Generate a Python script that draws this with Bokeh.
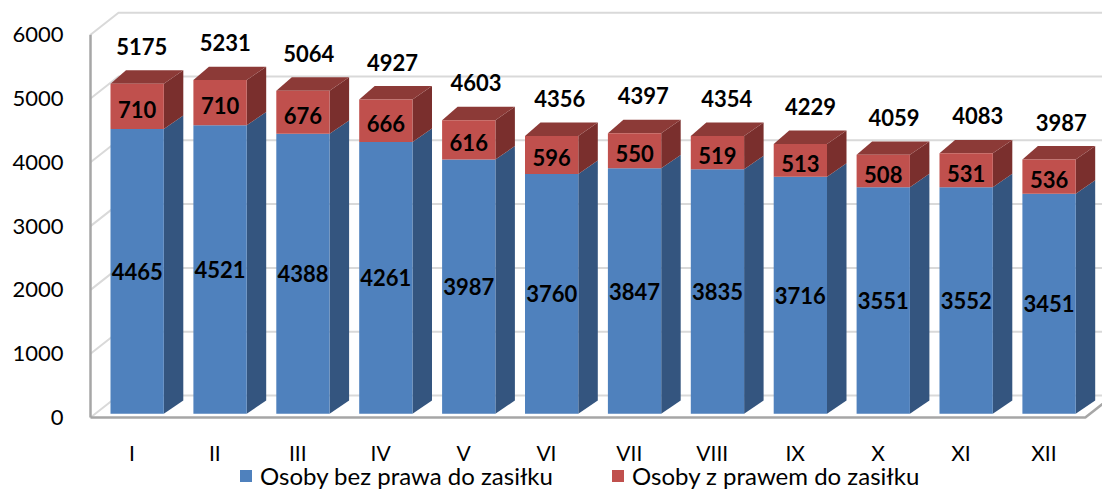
import numpy as np
from bokeh.plotting import figure
from bokeh.models import FixedTicker, Legend, LegendItem
from bokeh.embed import file_html
from bokeh.resources import INLINE
from bokeh.core.properties import value

# ---------------- data ----------------
months = ["I", "II", "III", "IV", "V", "VI", "VII", "VIII", "IX", "X", "XI", "XII"]
bez_prawa = [4465, 4521, 4388, 4261, 3987, 3760, 3847, 3835, 3716, 3551, 3552, 3451]
z_prawem = [710, 710, 676, 666, 616, 596, 550, 519, 513, 508, 531, 536]
totals = [5175, 5231, 5064, 4927, 4603, 4356, 4397, 4354, 4229, 4059, 4083, 3987]
y_ticks = [0, 1000, 2000, 3000, 4000, 5000, 6000]
series_names = ["Osoby bez prawa do zasiłku", "Osoby z prawem do zasiłku"]

# ---------------- geometry helpers (pixel -> data) ----------------
PX_X = 82.9      # pixels per category
PX_Y = 0.0638    # pixels per unit of value
def dxu(px):
    return px / PX_X
def dyu(px):
    return px / PX_Y

FONT = "Lato"
BLUE, BLUE_SIDE = "#4F81BD", "#34557F"
RED, RED_TOP, RED_SIDE = "#C0504D", "#8C3A37", "#7A2F2D"
GRID = "#D9D9D9"
AXIS = "#A6A6A6"

W, H = 1102, 490
FLOOR_Y = 417   # page pixel of value 0
n = len(months)
x0 = -dxu(4)
x1 = dxu(W - 90)
y0 = -dyu(H - FLOOR_Y)
y1 = dyu(FLOOR_Y)

p = figure(width=W, height=H, x_range=(x0, x1), y_range=(y0, y1),
           output_backend="svg", toolbar_location=None,
           min_border_left=86, min_border_right=0, min_border_top=0,
           min_border_bottom=0)
p.outline_line_color = None
p.xgrid.visible = False
p.ygrid.visible = False
p.background_fill_color = "white"
p.border_fill_color = "white"

# axes
p.yaxis.ticker = FixedTicker(ticks=y_ticks)
p.yaxis.axis_line_color = None
p.yaxis.major_tick_line_color = None
p.yaxis.minor_tick_line_color = None
p.yaxis.major_tick_out = 0
p.yaxis.major_label_standoff = 23
p.yaxis.major_label_text_font = FONT
p.yaxis.major_label_text_font_size = "22px"
p.yaxis.major_label_text_color = "black"

cat_centers = [i + 0.5 for i in range(n)]
p.xaxis.fixed_location = 0
p.xaxis.ticker = FixedTicker(ticks=cat_centers)
p.xaxis.major_label_overrides = {c: m for c, m in zip(cat_centers, months)}
p.xaxis.axis_line_color = None
p.xaxis.major_tick_line_color = None
p.xaxis.minor_tick_line_color = None
p.xaxis.major_tick_out = 0
p.xaxis.major_tick_in = 0
p.xaxis.major_label_standoff = 22
p.xaxis.major_label_text_font = FONT
p.xaxis.major_label_text_font_size = "21px"
p.xaxis.major_label_text_color = "black"

# back wall / side wall gridlines
back_dx, back_dy = dxu(28), dyu(22)
for v in y_ticks:
    p.line([0, back_dx, x1 + 1], [v, v + back_dy, v + back_dy],
           line_color=GRID, line_width=2)

# floor front edge and left axis line
p.line([0, 12.0, 12.0 + back_dx], [0, 0, back_dy], line_color=AXIS, line_width=2.5)
p.line([0, 0], [0, y_ticks[-1]], line_color=AXIS, line_width=2.5)

# ---------------- bars ----------------
b0 = dyu(3.7)
bar_w = dxu(53.3)
dxl, dxr, ddy = dxu(15.5), dxu(19.5), dyu(13.4)

xl = [i + dxu(20) for i in range(n)]
xr = [a + bar_w for a in xl]
blue_top = [b0 + b for b in bez_prawa]
red_top = [b0 + t for t in totals]

def side(xs_r, bottoms, tops):
    xs, ys = [], []
    for r, b, t in zip(xs_r, bottoms, tops):
        xs.append([r, r, r + dxr, r + dxr])
        ys.append([b, t, t + ddy, b + ddy])
    return xs, ys

bx, by = side(xr, [b0] * n, blue_top)
p.patches(bx, by, fill_color=BLUE_SIDE, line_color=None)
blue_r = p.quad(left=xl, right=xr, bottom=[b0] * n, top=blue_top,
                fill_color=BLUE, line_color=None)

rx, ry = side(xr, blue_top, red_top)
p.patches(rx, ry, fill_color=RED_SIDE, line_color=None)
tx, ty = [], []
for l, r, t in zip(xl, xr, red_top):
    tx.append([l, r, r + dxr, l + dxl])
    ty.append([t, t, t + ddy, t + ddy])
p.patches(tx, ty, fill_color=RED_TOP, line_color=None)
red_r = p.quad(left=xl, right=xr, bottom=blue_top, top=red_top,
               fill_color=RED, line_color=None)

# ---------------- labels ----------------
fc = [(l + r) / 2 for l, r in zip(xl, xr)]
p.text(x=fc, y=[b0 + b / 2 for b in bez_prawa], text=[str(v) for v in bez_prawa],
       text_font=value(FONT), text_font_style="bold", text_font_size="22px",
       text_align="center", text_baseline="middle", text_color="black")
p.text(x=fc, y=[b0 + b + z / 2 for b, z in zip(bez_prawa, z_prawem)],
       text=[str(v) for v in z_prawem], y_offset=3,
       text_font=value(FONT), text_font_style="bold", text_font_size="22px",
       text_align="center", text_baseline="middle", text_color="black")
p.text(x=[c + dxu(4.5 + 0.7 * i) for i, c in enumerate(fc)], y=red_top,
       text=[str(v) for v in totals], y_offset=-37.4,
       text_font=value(FONT), text_font_style="bold", text_font_size="22px",
       text_align="center", text_baseline="middle", text_color="black")

# ---------------- legends ----------------
def make_legend(label, rend, left_px):
    lg = Legend(items=[LegendItem(label=label, renderers=[rend])],
                location=(left_px - 86, 0), orientation="horizontal",
                background_fill_alpha=0, border_line_alpha=0,
                padding=0, margin=0, spacing=0,
                glyph_width=15, glyph_height=15, label_standoff=7,
                label_text_font=FONT, label_text_font_size="24px",
                label_text_color="black")
    p.add_layout(lg, "center")

make_legend(series_names[0], blue_r, 238)
make_legend(series_names[1], red_r, 610)

open("out.html", "w").write(file_html(p, INLINE))
